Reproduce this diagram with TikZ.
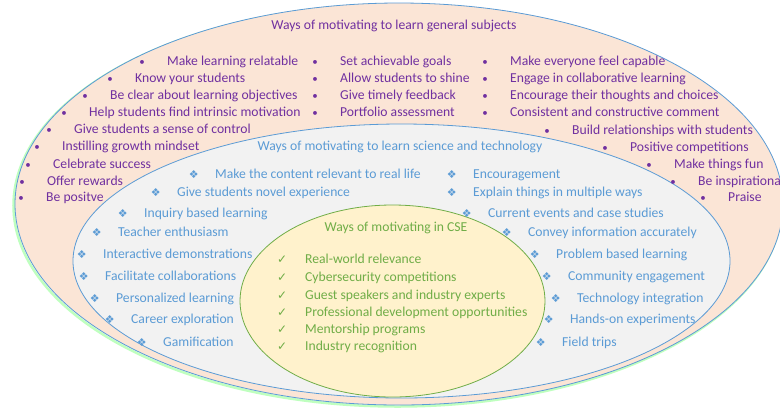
\documentclass[tikz,border=0pt]{standalone}
\usepackage{fontspec}
\setmainfont{Carlito}
\newfontfamily\djv{DejaVu Sans}
\definecolor{peach}{HTML}{FBE5D6}
\definecolor{greyf}{HTML}{F2F2F2}
\definecolor{yelf}{HTML}{FFF2CC}
\definecolor{blueline}{HTML}{5B9BD5}
\definecolor{greenline}{HTML}{70AD47}
\definecolor{purp}{HTML}{7030A0}
\definecolor{bluet}{HTML}{5B9BD5}
\definecolor{greent}{HTML}{70AD47}
\newcommand{\genB}{\llap{\makebox[0pt]{\fontsize{11}{11}\selectfont •}\hspace{25bp}}}
\newcommand{\sciB}{\llap{\makebox[0pt]{\djv\fontsize{11}{11}\selectfont ❖}\hspace{21.5bp}}}
\newcommand{\cseB}{\llap{\makebox[0pt]{\djv\fontsize{12}{12}\selectfont ✓}\hspace{23bp}}}
\tikzset{
  itm/.style={anchor=west, inner sep=0pt, text height=9bp, text depth=3bp, yshift=-1.5bp, font=\fontsize{13.7}{16}\selectfont},
  gen/.style={itm, text=purp},
  sci/.style={itm, text=bluet},
  cse/.style={itm, text=greent},
  ttl/.style={anchor=center, inner sep=0pt, text height=9bp, text depth=3bp, yshift=-1.5bp, font=\fontsize{13.7}{16}\selectfont},
}
\begin{document}
\begin{tikzpicture}[x=1bp,y=-1bp]
\useasboundingbox (0,0) rectangle (780,408);
\clip (0,0) rectangle (780,408);
\fill[white] (0,0) rectangle (780,408);
% outer ellipse with soft green glow
\draw[draw=green!25!white, line width=2.5bp] (397.5,205.5) ellipse [x radius=384, y radius=201];
\draw[fill=peach, draw=blueline, line width=0.8bp] (399,204) ellipse [x radius=384, y radius=201];
% middle ellipse
\draw[fill=greyf, draw=blueline, line width=0.8bp] (401.5,261) ellipse [x radius=328.5, y radius=137];
% inner ellipse
\draw[fill=yelf, draw=greenline, line width=0.8bp] (392.5,301) ellipse [x radius=152.5, y radius=96];
% titles
\node[ttl, text=purp] (tgen) at (394,25) {Ways of motivating to learn general subjects};
\node[ttl, text=bluet] (tsci) at (400,146) {Ways of motivating to learn science and technology};
\node[ttl, text=greent] (tcse) at (396,227) {Ways of motivating in CSE};
% general subjects
\foreach \x/\y/\t [count=\i] in {
 167/61/Make learning relatable,
 135/78/Know your students,
 110/95/Be clear about learning objectives,
 89/112/Help students find intrinsic motivation,
 74/129/Give students a sense of control,
 62/146/Instilling growth mindset,
 53/164/Celebrate success,
 47/181/Offer rewards,
 46/197/Be positve,
 340/61/Set achievable goals,
 340/78/Allow students to shine,
 340/95/Give timely feedback,
 340/112/Portfolio assessment,
 510/61/Make everyone feel capable,
 510/78/Engage in collaborative learning,
 510/95/Encourage their thoughts and choices,
 510/112/Consistent and constructive comment,
 572/130/Build relationships with students,
 630/147/Positive competitions,
 674/164/Make things fun,
 698/181/Be inspirational,
 728/197/Praise}
 \node[gen] (g\i) at (\x,\y) {\genB\t};
% science and technology
\foreach \x/\y/\t [count=\i] in {
 215/174/Make the content relevant to real life,
 177/192/Give students novel experience,
 144/213/Inquiry based learning,
 118/232/Teacher enthusiasm,
 103/254/Interactive demonstrations,
 105/276/Facilitate collaborations,
 116/298/Personalized learning,
 131/319/Career exploration,
 163/342/Gamification,
 473/174/Encouragement,
 473/192/Explain things in multiple ways,
 488/213/Current events and case studies,
 528/232/Convey information accurately,
 556/254/Problem based learning,
 568/276/Community engagement,
 577/298/Technology integration,
 570/319/Hands-on experiments,
 562/342/Field trips}
 \node[sci] (s\i) at (\x,\y) {\sciB\t};
% CSE
\foreach \y/\t [count=\i] in {
 259/Real-world relevance,
 277/Cybersecurity competitions,
 295/Guest speakers and industry experts,
 312/Professional development opportunities,
 329/Mentorship programs,
 346/Industry recognition}
 \node[cse] (c\i) at (305,\y) {\cseB\t};
\end{tikzpicture}
\end{document}
